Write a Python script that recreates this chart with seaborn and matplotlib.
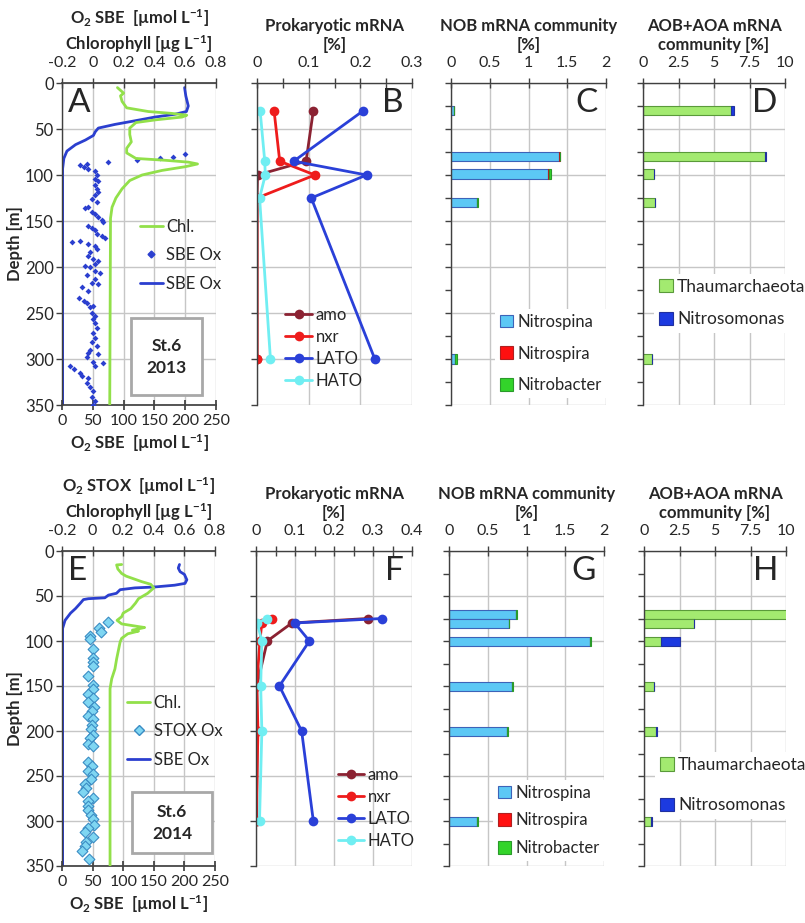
import matplotlib
matplotlib.use("Agg")
import matplotlib.pyplot as plt
from matplotlib.lines import Line2D
from matplotlib.patches import Patch, Rectangle
from matplotlib.ticker import MultipleLocator, FuncFormatter
import seaborn as sns

# ---------------- data ----------------
# St.6 2013 (top row)
sbe13_depth = [5, 14, 25, 31, 34, 37, 41, 45, 49, 53, 57, 62, 67, 74, 82, 93, 350]
sbe13_o2 = [199, 201, 205, 202, 183, 151, 119, 86, 59, 54, 51, 38, 22, 8, 3, 1, 1]

chl13_depth = [5, 11, 14, 20, 27, 31, 33, 35, 37, 40, 43, 49, 56, 64, 71, 76, 82, 84, 86,
               88, 91, 95, 100, 106, 115, 125, 135, 147, 350]
chl13 = [0.16, 0.20, 0.18, 0.19, 0.22, 0.36, 0.51, 0.61, 0.58, 0.41, 0.28, 0.24, 0.24, 0.25,
         0.22, 0.22, 0.28, 0.47, 0.62, 0.68, 0.60, 0.45, 0.32, 0.24, 0.19, 0.15, 0.125, 0.115, 0.11]

sbe13_dot_depth = [77, 80, 82, 84, 86, 88, 89, 91, 93, 96, 100, 104, 107, 111, 115, 118, 122,
                   126, 129, 135, 136, 140, 142, 146, 149, 151, 155, 158, 160, 164, 166, 169,
                   172, 173, 175, 177, 180, 184, 188, 191, 193, 197, 199, 200, 204, 206, 209,
                   213, 217, 219, 222, 226, 234, 237, 239, 242, 244, 250, 253, 257, 261, 266,
                   272, 277, 282, 286, 290, 293, 295, 298, 303, 304, 308, 308, 311, 315, 318,
                   321, 326, 330, 335, 341, 346, 350]
sbe13_dot_o2 = [200, 181, 159, 121, 75, 40, 30, 35, 43, 54, 57, 53, 59, 54, 57, 59, 54, 48,
                57, 43, 38, 48, 54, 59, 65, 67, 43, 48, 54, 57, 65, 70, 30, 16, 43, 54, 57,
                46, 43, 51, 59, 54, 38, 46, 54, 62, 40, 54, 48, 59, 32, 43, 27, 35, 40, 51,
                46, 48, 54, 51, 54, 57, 51, 54, 48, 57, 46, 43, 59, 40, 51, 67, 54, 13, 19,
                30, 32, 43, 40, 46, 51, 48, 54, 51]

rna13_depth = [30, 85, 100, 125, 300]
amo13 = [0.109, 0.095, 0.001, 0.0, 0.0]
nxr13 = [0.033, 0.044, 0.112, 0.0, 0.0]
lato13 = [0.206, 0.071, 0.212, 0.105, 0.228]
hato13 = [0.006, 0.015, 0.016, 0.005, 0.026]

bar13_depth = [30, 80, 99, 130, 300]
nitrospina13 = [0.04, 1.39, 1.25, 0.33, 0.055]
nitrospira13 = [0.005, 0.01, 0.02, 0.0, 0.0]
nitrobacter13 = [0.0, 0.0, 0.015, 0.015, 0.025]
thaum13 = [6.19, 8.6, 0.75, 0.85, 0.6]
nitroso13 = [0.25, 0.05, 0.05, 0.03, 0.05]

# St.6 2014 (bottom row)
sbe14_depth = [15, 19, 23, 26, 32, 36, 38, 40, 41, 43, 47, 49, 52, 53, 54, 58, 64, 69, 77, 86, 350]
sbe14_o2 = [192, 190, 193, 200, 204, 201, 184, 151, 119, 95, 89, 76, 70, 43, 35, 30, 22, 14, 5, 1, 1]

chl14_depth = [15, 15.5, 20, 25, 28, 34, 37, 41, 47, 53, 58, 64, 69, 73, 77, 81, 84, 85, 88,
               89, 92, 97, 101, 120, 131, 142, 153, 350]
chl14 = [0.19, 0.157, 0.165, 0.19, 0.22, 0.32, 0.38, 0.40, 0.36, 0.30, 0.28, 0.25, 0.20, 0.19,
         0.16, 0.19, 0.30, 0.34, 0.26, 0.30, 0.23, 0.19, 0.18, 0.157, 0.146, 0.125, 0.114, 0.114]

stox_depth = [79, 85, 90, 94, 98, 109, 119, 123, 128, 139, 149, 153, 159, 163, 168, 173, 178,
              183, 187, 193, 198, 204, 208, 214, 217, 234, 239, 244, 248, 253, 259, 263, 268,
              274, 278, 283, 288, 293, 298, 304, 308, 312, 318, 323, 328, 333, 342]
stox_o2 = [75, 60, 63, 46, 46, 50, 50, 51, 50, 42, 50, 50, 42, 50, 43, 53, 49, 42, 50, 49, 48,
           50, 46, 43, 50, 43, 49, 43, 50, 48, 38, 39, 35, 50, 43, 42, 43, 48, 51, 53, 42, 38,
           50, 39, 37, 32, 44]

rna14_depth = [75, 80, 100, 150, 200, 300]
amo14 = [0.286, 0.092, 0.029, 0.002, 0.003, 0.002]
nxr14 = [0.04, 0.015, 0.01, 0.002, 0.005, 0.0]
lato14 = [0.323, 0.099, 0.137, 0.060, 0.117, 0.147]
hato14 = [0.027, 0.003, 0.015, 0.012, 0.015, 0.009]

bar14_depth = [71, 81, 100, 150, 200, 300]
nitrospina14 = [0.87, 0.77, 1.815, 0.81, 0.75, 0.365]
nitrospira14 = [0.0, 0.0, 0.0, 0.0, 0.0, 0.0]
nitrobacter14 = [0.005, 0.005, 0.013, 0.01, 0.005, 0.013]
thaum14 = [10.05, 3.5, 1.22, 0.68, 0.87, 0.52]
nitroso14 = [0.06, 0.05, 1.29, 0.05, 0.05, 0.05]

# ---------------- style ----------------
sns.set_theme(style="white")
plt.rcParams["font.family"] = ["Lato", "DejaVu Sans"]
plt.rcParams["mathtext.fontset"] = "custom"
plt.rcParams["mathtext.rm"] = "Lato:bold"
plt.rcParams["mathtext.default"] = "rm"

GRID = "#c6c6c6"
SPINE = "#404040"
C_SBE = "#2b3fcf"
C_CHL = "#92e04a"
C_STOX = "#7fd6f2"
C_AMO = "#8b2232"
C_NXR = "#ee1c1c"
C_LATO = "#2a40d8"
C_HATO = "#70eef2"
C_SPINA = "#5cc8f5"
C_SPIRA = "#ff1010"
C_BACTER = "#33d42a"
C_THAUM = "#a3ea70"
C_NSOM = "#1c3ae0"
TICK_FS = 11.5
DEPTH_FS = 12
LAB_FS = 12
LEG_FS = 12

fmt = FuncFormatter(lambda v, p: f"{v:g}")

fig = plt.figure(figsize=(8.05, 9.23), dpi=100)
W, H = 805, 923


def add_ax(x0, w, y_top, y_bot):
    return fig.add_axes([x0 / W, 1 - y_bot / H, w / W, (y_bot - y_top) / H])


def depth_axis(ax, labels=False, minor=False):
    ax.set_ylim(350, 0)
    ax.yaxis.set_major_locator(MultipleLocator(50))
    if minor:
        ax.yaxis.set_minor_locator(MultipleLocator(25))
    ax.grid(True, which="major", color=GRID, lw=1)
    ax.set_axisbelow(True)
    for s in ["right", "bottom"]:
        ax.spines[s].set_visible(False)
    for s in ["top", "left"]:
        ax.spines[s].set_color(SPINE)
        ax.spines[s].set_linewidth(1)
    ax.tick_params(axis="y", which="both", left=True, direction="out", length=4,
                   width=1, color=SPINE, labelleft=labels, labelsize=DEPTH_FS, pad=2)
    ax.set_ylabel("")


def top_axis(ax, lim, major, title, minor=None):
    ax.set_xlim(*lim)
    ax.xaxis.set_major_locator(MultipleLocator(major))
    if minor:
        ax.xaxis.set_minor_locator(MultipleLocator(minor))
    ax.xaxis.set_major_formatter(fmt)
    ax.xaxis.tick_top()
    ax.xaxis.set_label_position("top")
    ax.tick_params(axis="x", which="both", top=True, bottom=False, direction="inout",
                   length=7, width=1, color=SPINE, labelsize=TICK_FS, pad=6)
    ax.set_xlabel(title, fontweight="bold", fontsize=LAB_FS, labelpad=4, linespacing=1.25)


def letter(ax, s, left=False):
    if left:
        ax.text(0.04, 0.985, s, transform=ax.transAxes, ha="left", va="top", fontsize=24)
    else:
        ax.text(0.945, 0.985, s, transform=ax.transAxes, ha="right", va="top", fontsize=24)


def station_box(ax, x0, y0, w, h, txt):
    ax.add_patch(Rectangle((x0, y0), w, h, transform=ax.transAxes, facecolor="white",
                           edgecolor="#a8a8a8", lw=2, zorder=5))
    ax.text(x0 + w / 2, y0 + h / 2, txt, transform=ax.transAxes, ha="center", va="center",
            fontweight="bold", fontsize=12.5, linespacing=1.45, zorder=6)


def oxygen_panel(ax, sbe_d, sbe_v, chl_d, chl_v, dot_d, dot_v, dot_style, leg_ms, top_title,
                 dot_label, year, leg_anchor, box):
    depth_axis(ax, labels=True)
    ax.set_xlim(0, 250)
    ax.xaxis.set_major_locator(MultipleLocator(50))
    ax.spines["bottom"].set_visible(True)
    ax.spines["bottom"].set_color(SPINE)
    ax.spines["top"].set_visible(False)
    ax.tick_params(axis="x", bottom=True, direction="inout", length=7, color=SPINE,
                   labelsize=TICK_FS, pad=3)
    ax.set_xlabel("O$_2$ SBE  [µmol L$^{-1}$]", fontweight="bold", fontsize=LAB_FS, labelpad=3)
    ax.set_ylabel("Depth [m]", fontweight="bold", fontsize=LAB_FS, labelpad=1)

    sns.scatterplot(x=dot_v, y=dot_d, ax=ax, legend=False, zorder=3, **dot_style)
    sns.lineplot(x=sbe_v, y=sbe_d, ax=ax, sort=False, estimator=None, color=C_SBE, lw=2)

    axc = ax.twiny()
    for s in ["left", "right", "bottom"]:
        axc.spines[s].set_visible(False)
    axc.spines["top"].set_color(SPINE)
    top_axis(axc, (-0.2, 0.8), 0.2, top_title)
    sns.lineplot(x=chl_v, y=chl_d, ax=axc, sort=False, estimator=None, color=C_CHL, lw=2)
    axc.set_ylim(350, 0)
    axc.set_ylabel("")

    dot_handle = Line2D([], [], ls="none", marker="D", markersize=leg_ms,
                        markerfacecolor=dot_style["color"],
                        markeredgecolor=dot_style["edgecolor"])
    handles = [Line2D([], [], color=C_CHL, lw=2), dot_handle, Line2D([], [], color=C_SBE, lw=2)]
    axc.legend(handles, ["Chl.", dot_label, "SBE Ox"], loc="upper left",
               bbox_to_anchor=leg_anchor, frameon=False, fontsize=LEG_FS,
               handlelength=1.4, handletextpad=0.2, labelspacing=0.75, borderpad=0)
    station_box(axc, *box, f"St.6\n{year}")
    return axc


def line_panel(ax, depth, series, lim, title, leg_anchor):
    depth_axis(ax)
    names = ["amo", "nxr", "LATO", "HATO"]
    colors = [C_AMO, C_NXR, C_LATO, C_HATO]
    for vals, c in zip(series, colors):
        sns.lineplot(x=vals, y=depth, ax=ax, sort=False, estimator=None, color=c,
                     lw=2, marker="o", markersize=7, markeredgewidth=0)
    top_axis(ax, lim, 0.1, title, minor=0.05)
    ax.set_ylim(350, 0)
    handles = [Line2D([], [], color=c, lw=2, marker="o", markersize=7, markeredgewidth=0)
               for c in colors]
    ax.legend(handles, names, loc="upper left", bbox_to_anchor=leg_anchor, frameon=False,
              fontsize=LEG_FS, handlelength=1.6, handletextpad=0.2, labelspacing=0.35,
              borderpad=0)


def bar_panel(ax, depth, series, colors, edges, names, lim, major, title, leg_anchor, spacing,
              leg_fs=LEG_FS):
    depth_axis(ax, minor=True)
    left = [0.0] * len(depth)
    for vals, c, e in zip(series, colors, edges):
        ax.barh(depth, vals, left=left, height=10, color=c, edgecolor=e, lw=0.8, zorder=2)
        left = [a + b for a, b in zip(left, vals)]
    top_axis(ax, lim, major, title)
    ax.set_ylim(350, 0)
    handles = [Patch(facecolor=c, edgecolor=e, lw=0.8) for c, e in zip(colors, edges)]
    ax.legend(handles, names, loc="upper left", bbox_to_anchor=leg_anchor, frameon=True,
              facecolor="white", edgecolor="none", framealpha=1, fancybox=False,
              fontsize=leg_fs, handlelength=0.8, handleheight=0.8, handletextpad=0.25,
              labelspacing=spacing, borderpad=0.3)


# ---------------- top row: 2013 ----------------
axA = add_ax(62, 154, 83, 405)
axB = add_ax(257, 155, 83, 405)
axC = add_ax(451, 155, 83, 405)
axD = add_ax(643, 142, 83, 405)

axA2 = oxygen_panel(axA, sbe13_depth, sbe13_o2, chl13_depth, chl13, sbe13_dot_depth,
                    sbe13_dot_o2, dict(marker="D", s=9, color=C_SBE, edgecolor=C_SBE, linewidth=0),
                    3.5, "O$_2$ SBE  [µmol L$^{-1}$]\nChlorophyll [µg L$^{-1}$]", "SBE Ox", 2013,
                    (0.45, 0.605), (0.45, 0.03, 0.46, 0.24))
letter(axA2, "A", left=True)

line_panel(axB, rna13_depth, [amo13, nxr13, lato13, hato13], (0, 0.3),
           "Prokaryotic mRNA\n[%]", (0.13, 0.33))
letter(axB, "B")

bar_panel(axC, bar13_depth, [nitrospina13, nitrospira13, nitrobacter13],
          [C_SPINA, C_SPIRA, C_BACTER], ["#3d63b8", "#b02020", "#2a9a2a"],
          ["Nitrospina", "Nitrospira", "Nitrobacter"], (0, 2), 0.5,
          "NOB mRNA community\n[%]", (0.23, 0.325), 0.95)
letter(axC, "C")

bar_panel(axD, bar13_depth, [thaum13, nitroso13], [C_THAUM, C_NSOM], ["#5a9a3a", "#2030a0"],
          ["Thaumarchaeota", "Nitrosomonas"], (0, 10), 2.5,
          "AOB+AOA mRNA\ncommunity [%]", (0.014, 0.435), 0.95, leg_fs=12.5)
letter(axD, "D")

# ---------------- bottom row: 2014 ----------------
axE = add_ax(62, 153, 551, 866)
axF = add_ax(256, 156, 551, 866)
axG = add_ax(449, 155, 551, 866)
axH = add_ax(644, 142, 551, 866)

axE2 = oxygen_panel(axE, sbe14_depth, sbe14_o2, chl14_depth, chl14, stox_depth, stox_o2,
                    dict(marker="D", s=30, color=C_STOX, edgecolor="#3a8cc4", linewidth=0.8),
                    5.5, "O$_2$ STOX  [µmol L$^{-1}$]\nChlorophyll [µg L$^{-1}$]", "STOX Ox", 2014,
                    (0.37, 0.57), (0.46, 0.04, 0.52, 0.195))
letter(axE2, "E", left=True)

line_panel(axF, rna14_depth, [amo14, nxr14, lato14, hato14], (0, 0.4),
           "Prokaryotic mRNA\n[%]", (0.47, 0.34))
letter(axF, "F")

bar_panel(axG, bar14_depth, [nitrospina14, nitrospira14, nitrobacter14],
          [C_SPINA, C_SPIRA, C_BACTER], ["#3d63b8", "#b02020", "#2a9a2a"],
          ["Nitrospina", "Nitrospira", "Nitrobacter"], (0, 2), 0.5,
          "NOB mRNA community\n[%]", (0.23, 0.30), 0.7)
letter(axG, "G")

bar_panel(axH, bar14_depth, [thaum14, nitroso14], [C_THAUM, C_NSOM], ["#5a9a3a", "#2030a0"],
          ["Thaumarchaeota", "Nitrosomonas"], (0, 10), 2.5,
          "AOB+AOA mRNA\ncommunity [%]", (0.014, 0.39), 1.4, leg_fs=12.5)
letter(axH, "H")

fig.savefig("out.png", dpi=100)
